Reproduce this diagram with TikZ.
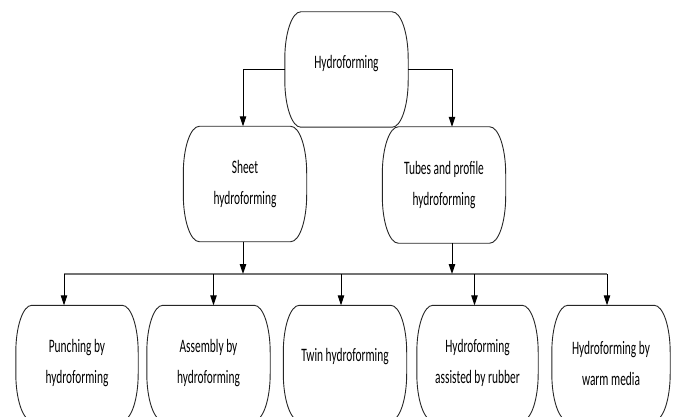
\documentclass[tikz,border=0pt]{standalone}
\usepackage{fontspec}
\setmainfont{Carlito}[FakeStretch=0.6]
\usetikzlibrary{arrows.meta}

% barrel shaped outline round a named node
\newcommand\barrel[1]{%
  \draw[outline] ([xshift=16pt]#1.north west) -- ([xshift=-16pt]#1.north east)
    .. controls +(8.8pt,0pt) and +(0pt,26pt) .. ([yshift=-47pt]#1.north east)
    -- ([yshift=47pt]#1.south east)
    .. controls +(0pt,-26pt) and +(8.8pt,0pt) .. ([xshift=-16pt]#1.south east)
    -- ([xshift=16pt]#1.south west)
    .. controls +(-8.8pt,0pt) and +(0pt,-26pt) .. ([yshift=47pt]#1.south west)
    -- ([yshift=-47pt]#1.north west)
    .. controls +(0pt,26pt) and +(-8.8pt,0pt) .. cycle;}

\begin{document}
\begin{tikzpicture}[x=1pt, y=-1pt,
    box/.style={minimum width=123pt, minimum height=115pt, inner sep=0pt, align=center, font=\fontsize{19pt}{31pt}\selectfont},
    oneline/.style={text depth=16pt},
    outline/.style={draw=black!85, line width=0.9pt},
    arrow/.style={-{Triangle[length=10pt,width=6.5pt]}, line width=1pt},
    bus/.style={draw=black!55, line width=2.5pt}]

    \useasboundingbox (0,0) rectangle (675,417);
    \clip (0,0) rectangle (675,417);

    \node [box, oneline] (top) at (346.5,69.5) {Hydroforming};
    \node [box] (sheet) at (245,184) {Sheet\\hydroforming};
    \node [box, minimum height=116pt] (tubes) at (444,185) {Tubes and profile\\hydroforming};

    \node [box, minimum width=122pt] (punch) at (77,363) {Punching by\\hydroforming};
    \node [box] (assem) at (208.5,363) {Assembly by\\hydroforming};
    \node [box, oneline] (twin) at (345,363) {Twin hydroforming};
    \node [box, minimum width=121pt] (rubber) at (477.5,363) {Hydroforming\\assisted by rubber};
    \node [box, minimum width=118pt] (warm) at (611,363) {Hydroforming by\\warm media};

    \foreach \n in {top,sheet,tubes,punch,assem,twin,rubber,warm}
        \barrel{\n};

    \coordinate (bus) at (0,274);

    \draw [arrow] (top.west) -| ([xshift=-2pt]sheet.north);
    \draw [arrow] (top.east) -| ([xshift=8pt]tubes.north);
    \draw [bus] ([xshift=-13pt]punch.north |- bus) -- ([xshift=-4pt]warm.north |- bus);
    \draw [arrow] ([xshift=-2pt]sheet.south) -- ([xshift=-2pt]sheet.south |- bus);
    \draw [arrow] ([xshift=8pt]tubes.south) -- ([xshift=8pt]tubes.south |- bus);
    \foreach \n/\dx in {punch/-13,assem/5,twin/-4,rubber/-3,warm/-4}
        \draw [arrow] ([xshift=\dx pt]\n.north |- bus) -- ([xshift=\dx pt]\n.north);
\end{tikzpicture}
\end{document}
